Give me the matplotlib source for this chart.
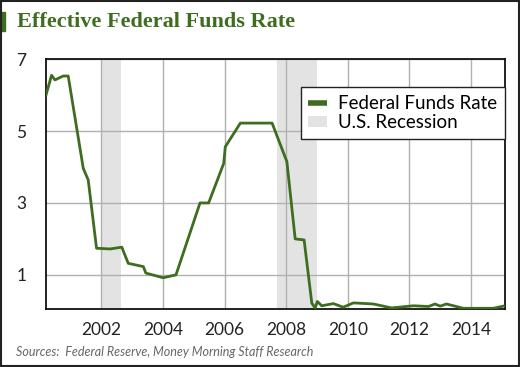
import matplotlib
matplotlib.use("Agg")
import matplotlib.pyplot as plt
from matplotlib.patches import Rectangle, Patch
from matplotlib.lines import Line2D

# effective fed funds rate (decimal year, percent)
years = [2000.2, 2000.38, 2000.49, 2000.76, 2000.92, 2001.41, 2001.57, 2001.84,
         2002.28, 2002.66, 2002.87, 2003.36, 2003.44, 2004.0, 2004.42, 2005.2,
         2005.48, 2005.97, 2006.02, 2006.51, 2007.54, 2008.02, 2008.29, 2008.58,
         2008.83, 2008.94, 2009.01, 2009.15, 2009.53, 2009.85, 2010.18, 2010.83,
         2011.42, 2012.13, 2012.62, 2012.83, 2013.0, 2013.2, 2013.75, 2014.72,
         2015.05]
rate = [6.0, 6.55, 6.42, 6.53, 6.53, 3.96, 3.64, 1.74,
        1.72, 1.77, 1.32, 1.23, 1.05, 0.92, 1.0, 3.0,
        3.0, 4.1, 4.56, 5.22, 5.22, 4.15, 2.0, 1.97,
        0.21, 0.08, 0.26, 0.14, 0.2, 0.1, 0.22, 0.19,
        0.08, 0.14, 0.12, 0.19, 0.13, 0.19, 0.07, 0.07,
        0.13]

recessions = [(2002.0, 2002.65), (2007.7, 2009.0)]

xticks = [2002, 2004, 2006, 2008, 2010, 2012, 2014]
yticks = [1, 3, 5, 7]

green = "#3f6d1f"
band = "#e3e3e3"
sans = ["Lato", "DejaVu Sans"]

fig = plt.figure(figsize=(5.2, 3.67), dpi=100)
ax = fig.add_axes([0.0885, 0.158, 0.8825, 0.681])

for a, b in recessions:
    ax.axvspan(a, b, color=band, lw=0, zorder=0)

ax.plot(years, rate, color=green, lw=2, zorder=3)

ax.set_xlim(2000.2, 2015.1)
ax.set_ylim(0.05, 7)
ax.set_xticks(xticks)
ax.set_yticks(yticks)
ax.grid(True, color="#b0b0b0", lw=1, zorder=1)
ax.set_axisbelow(True)
ax.tick_params(length=0, labelsize=12.5)
ax.tick_params(axis="y", pad=14)
ax.tick_params(axis="x", pad=9)
for lab in ax.get_xticklabels() + ax.get_yticklabels():
    lab.set_family(sans)
    lab.set_color("#222222")
for s in ax.spines.values():
    s.set_color("#111111")
    s.set_linewidth(1.3)

handles = [Line2D([], [], color=green, lw=4, solid_capstyle="butt"),
           Patch(facecolor=band, edgecolor="none")]
leg = ax.legend(handles, ["Federal Funds Rate", "U.S. Recession"],
                loc="upper right", bbox_to_anchor=(1.0, 0.888), borderaxespad=0,
                fancybox=False, framealpha=1, edgecolor="#222222",
                handlelength=1.0, handleheight=0.5, handletextpad=0.6,
                borderpad=0.4, labelspacing=0.15,
                prop={"family": sans, "size": 13.5})
leg.get_frame().set_linewidth(1.0)
leg.set_zorder(5)

# title and side marker
fig.text(0.033, 0.94, "Effective Federal Funds Rate", color=green,
         fontsize=16, fontweight="bold", family="Liberation Serif", va="center")
fig.patches.append(Rectangle((0, 0.915), 0.009, 0.052, transform=fig.transFigure,
                             color=green))

fig.text(0.031, 0.04, "Sources:  Federal Reserve, Money Morning Staff Research",
         color="#666666", fontsize=9, style="italic", family=sans, va="center")

# outer border
fig.patches.append(Rectangle((0.002, 0.003), 0.996, 0.994, transform=fig.transFigure,
                             fill=False, edgecolor="#222222", lw=1.5))

fig.savefig("out.png", dpi=100)
